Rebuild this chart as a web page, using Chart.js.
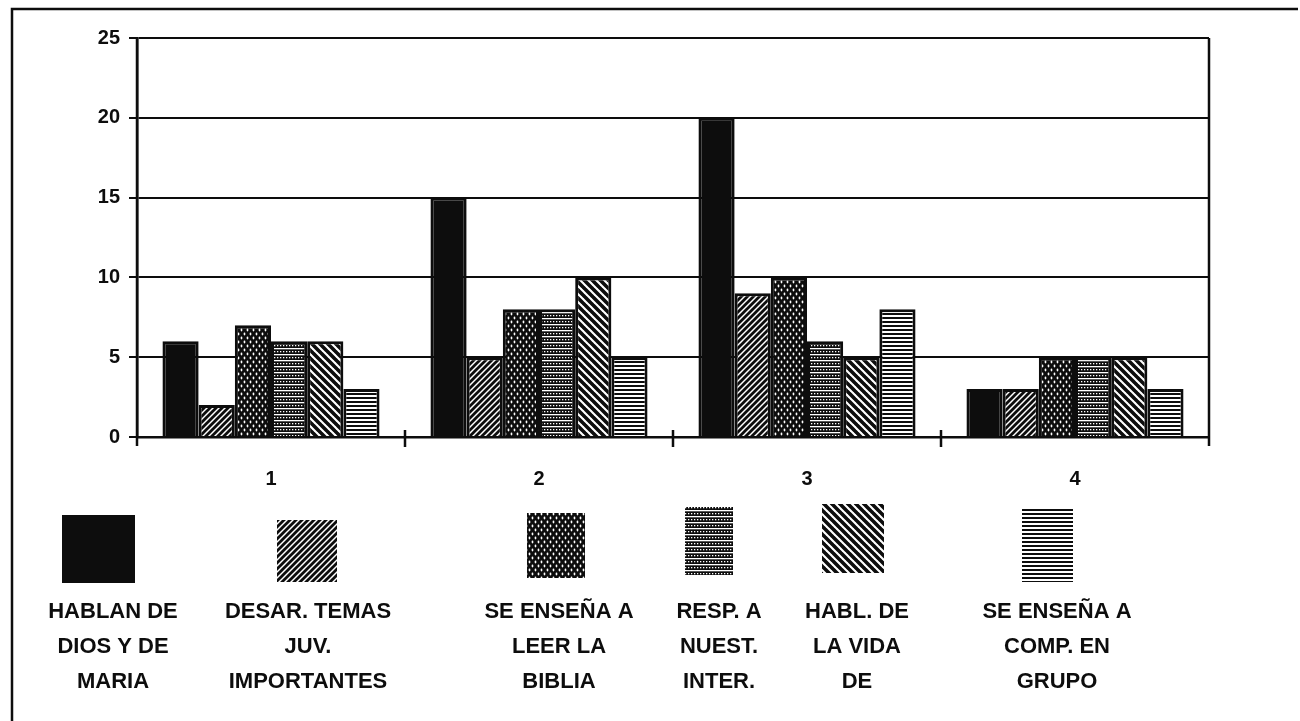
<!DOCTYPE html>
<html>
<head>
<meta charset="utf-8">
<script src="https://cdn.jsdelivr.net/npm/chart.js@4/dist/chart.umd.min.js"></script>
<style>
  html, body { margin: 0; padding: 0; background: #fff; }
  #wrap { width: 1300px; height: 721px; }
</style>
</head>
<body>
<div id="wrap"><canvas id="chart" width="1300" height="721"></canvas></div>
<script>
(() => {
  "use strict";

  // data
  const categories = ["1", "2", "3", "4"];
  const hablanDios = [6, 15, 20, 3];
  const temasJuv = [2, 5, 9, 3];
  const leerBiblia = [7, 8, 10, 5];
  const respInter = [6, 8, 6, 5];
  const vidaDe = [6, 10, 5, 5];
  const compGrupo = [3, 5, 8, 3];
  const yTicks = [0, 5, 10, 15, 20, 25];
  const seriesNames = [
    ["HABLAN DE", "DIOS Y DE", "MARIA"],
    ["DESAR. TEMAS", "JUV.", "IMPORTANTES"],
    ["SE ENSEÑA A", "LEER LA", "BIBLIA"],
    ["RESP. A", "NUEST.", "INTER."],
    ["HABL. DE", "LA VIDA", "DE"],
    ["SE ENSEÑA A", "COMP. EN", "GRUPO"],
  ];

  // legend layout (swatch box + label centre)
  const legendBoxes = [
    { x: 62, y: 515, w: 73, h: 68, tx: 113 },
    { x: 277, y: 520, w: 60, h: 62, tx: 308 },
    { x: 527, y: 513, w: 58, h: 65, tx: 559 },
    { x: 685, y: 507, w: 48, h: 68, tx: 719 },
    { x: 822, y: 504, w: 62, h: 69, tx: 857 },
    { x: 1022, y: 508, w: 51, h: 74, tx: 1057 },
  ];

  const FONT = '"Liberation Sans", Arial, sans-serif';
  const INK = "#0d0d0d";

  function makePattern(w, h, draw) {
    const c = document.createElement("canvas");
    c.width = w; c.height = h;
    const g = c.getContext("2d");
    draw(g, w, h);
    return document.getElementById("chart").getContext("2d").createPattern(c, "repeat");
  }

  const patSolid = INK;
  const patSlash = makePattern(6, 6, (g) => {
    g.fillStyle = "#fff"; g.fillRect(0, 0, 6, 6);
    g.strokeStyle = INK; g.lineWidth = 2.8;
    g.beginPath();
    g.moveTo(-1, 7); g.lineTo(7, -1);
    g.moveTo(-4, 4); g.lineTo(4, -4);
    g.moveTo(2, 10); g.lineTo(10, 2);
    g.stroke();
  });
  const patDots = makePattern(6, 8, (g) => {
    g.fillStyle = INK; g.fillRect(0, 0, 6, 8);
    g.fillStyle = "#fff";
    g.beginPath(); g.ellipse(1.5, 2, 0.9, 1.4, 0, 0, Math.PI * 2); g.fill();
    g.beginPath(); g.ellipse(4.5, 6, 0.9, 1.4, 0, 0, Math.PI * 2); g.fill();
  });
  const patCross = makePattern(6, 6, (g) => {
    g.fillStyle = INK; g.fillRect(0, 0, 6, 6);
    g.fillStyle = "#fff";
    g.fillRect(0, 0, 6, 1.3);
    g.fillRect(1, 3, 1.3, 1.3);
    g.fillRect(4, 3, 1.3, 1.3);
  });
  const patBack = makePattern(8, 8, (g) => {
    g.fillStyle = "#fff"; g.fillRect(0, 0, 8, 8);
    g.strokeStyle = INK; g.lineWidth = 3.6;
    g.beginPath();
    g.moveTo(-1, -1); g.lineTo(9, 9);
    g.moveTo(-1, 7); g.lineTo(1, 9);
    g.moveTo(7, -1); g.lineTo(9, 1);
    g.stroke();
  });
  const patLines = makePattern(4, 4, (g) => {
    g.fillStyle = "#fff"; g.fillRect(0, 0, 4, 4);
    g.fillStyle = INK; g.fillRect(0, 1, 4, 2);
  });

  const fills = [patSolid, patSlash, patDots, patCross, patBack, patLines];
  const values = [hablanDios, temasJuv, leerBiblia, respInter, vidaDe, compGrupo];

  const frame = {
    id: "frame",
    afterDraw(chart) {
      const ctx = chart.ctx, a = chart.chartArea, xs = chart.scales.x;
      ctx.save();
      ctx.strokeStyle = INK;
      ctx.lineWidth = 2.5;
      // scanned page border
      ctx.beginPath();
      ctx.moveTo(12, 721); ctx.lineTo(12, 9); ctx.lineTo(1298, 9);
      ctx.stroke();
      // plot edges and category ticks crossing the axis
      ctx.lineWidth = 2.5;
      ctx.beginPath();
      ctx.moveTo(a.right, a.top); ctx.lineTo(a.right, a.bottom + 9);
      ctx.moveTo(a.left, a.top); ctx.lineTo(a.left, a.bottom + 9);
      for (let i = 1; i < categories.length; i++) {
        const px = xs.getPixelForValue(i - 0.5);
        ctx.moveTo(px, a.bottom - 7); ctx.lineTo(px, a.bottom + 10);
      }
      ctx.stroke();
      // legend
      chart.data.datasets.forEach((ds, i) => {
        const b = legendBoxes[i];
        ctx.fillStyle = ds.backgroundColor;
        ctx.fillRect(b.x, b.y, b.w, b.h);
        ctx.fillStyle = INK;
        ctx.font = "bold 22px " + FONT;
        ctx.textAlign = "center";
        ctx.textBaseline = "middle";
        seriesNames[i].forEach((line, k) => ctx.fillText(line, b.tx, 612 + k * 35));
      });
      ctx.restore();
    },
  };

  new Chart(document.getElementById("chart"), {
    type: "bar",
    data: {
      labels: categories,
      datasets: values.map((v, i) => ({
        label: seriesNames[i].join(" "),
        data: v,
        backgroundColor: fills[i],
        borderColor: INK,
        borderWidth: 3,
        categoryPercentage: 0.81,
        barPercentage: 1,
      })),
    },
    options: {
      responsive: false,
      animation: false,
      layout: { padding: { left: 0, top: 38, right: 91, bottom: 0 } },
      plugins: { legend: { display: false }, tooltip: { enabled: false } },
      scales: {
        x: {
          afterFit: (s) => { s.height = 284; },
          grid: { offset: true, drawOnChartArea: false, drawTicks: false, tickLength: 10 },
          border: { color: INK, width: 2.5 },
          ticks: { color: INK, padding: 30, font: { family: FONT, size: 20, weight: "bold" } },
        },
        y: {
          min: 0, max: 25,
          afterFit: (s) => { s.width = 137; },
          afterBuildTicks: (s) => { s.ticks = yTicks.map((v) => ({ value: v })); },
          grid: { color: INK, lineWidth: 2, tickLength: 8 },
          border: { color: INK, width: 2.5 },
          ticks: { color: INK, padding: 9, font: { family: FONT, size: 20, weight: "bold" } },
        },
      },
    },
    plugins: [frame],
  });
})();
</script>
</body>
</html>
